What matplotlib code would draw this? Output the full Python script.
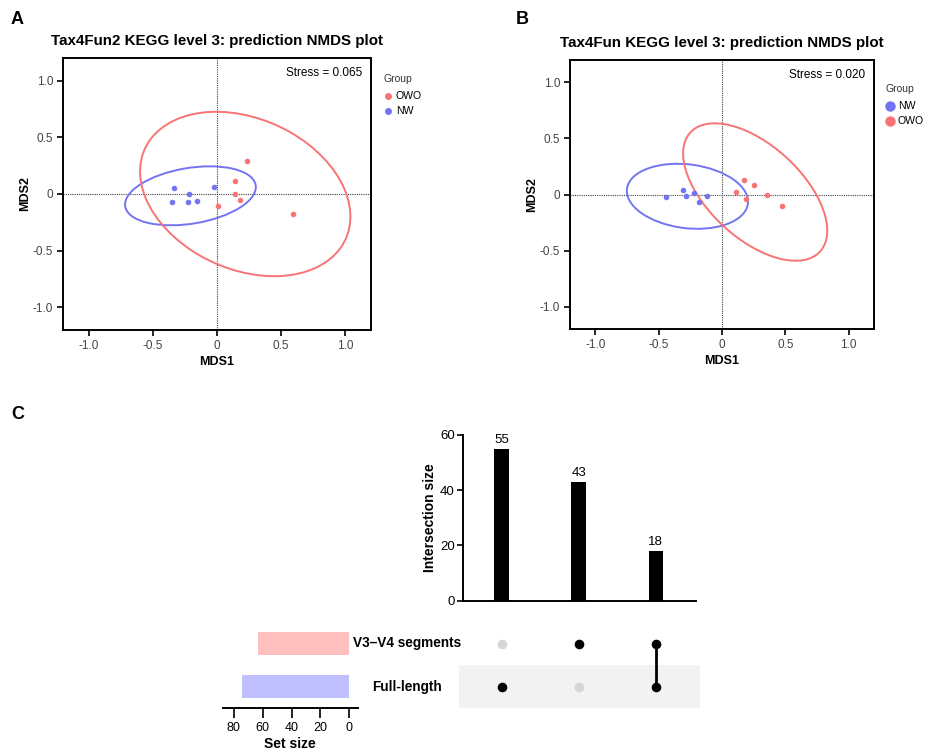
import matplotlib.pyplot as plt
import matplotlib.transforms as mtransforms
from matplotlib.patches import Ellipse

plt.rcParams['font.family'] = ['Liberation Sans', 'DejaVu Sans']
plt.rcParams['axes.unicode_minus'] = False

RED = '#F87474'
BLUE = '#7474F2'

# Panel A: Tax4Fun2 NMDS
a_nw_x = [-0.336, -0.216, -0.354, -0.226, -0.156, -0.026]
a_nw_y = [0.050, 0.003, -0.067, -0.073, -0.058, 0.059]
a_owo_x = [0.235, 0.141, 0.143, 0.177, 0.005, 0.591]
a_owo_y = [0.291, 0.118, 0.003, -0.053, -0.106, -0.179]
# ellipse: center x, center y, width, height, angle
a_nw_ell = (-0.207, -0.016, 1.034, 0.49, 11.1)
a_owo_ell = (0.22, 0.0, 1.764, 1.296, -33.0)
a_stress = 'Stress = 0.065'

# Panel B: Tax4Fun NMDS
b_nw_x = [-0.442, -0.305, -0.281, -0.218, -0.184, -0.115]
b_nw_y = [-0.024, 0.042, -0.015, 0.015, -0.068, -0.012]
b_owo_x = [0.108, 0.174, 0.252, 0.192, 0.352, 0.473]
b_owo_y = [0.024, 0.131, 0.083, -0.038, -0.006, -0.101]
b_nw_ell = (-0.273, -0.016, 0.964, 0.568, -8.8)
b_owo_ell = (0.262, 0.022, 1.48, 0.78, -48.8)
b_stress = 'Stress = 0.020'

# Panel C: UpSet
set_names = ['Full-length', 'V3\u2013V4 segments']
set_sizes = [74, 63]
set_colors = ['#C0C0FF', '#FFC0C0']
inter_sizes = [55, 43, 18]
inter_members = [[0], [1], [0, 1]]

W, H = 925, 753
fig = plt.figure(figsize=(W / 100, H / 100), dpi=100)


def px_axes(x0, y0, x1, y1):
    return fig.add_axes([x0 / W, 1 - y1 / H, (x1 - x0) / W, (y1 - y0) / H])


def fmt(v):
    return '0' if v == 0 else f'{v:.1f}'


def nmds_panel(ax, nw, owo, nw_ell, owo_ell, stress, title, legend_order, legend_xy, msize):
    ax.axhline(0, color='#444444', lw=0.8, ls=(0, (1, 1)), zorder=1)
    ax.axvline(0, color='#444444', lw=0.8, ls=(0, (1, 1)), zorder=1)
    for ell, c in [(nw_ell, BLUE), (owo_ell, RED)]:
        ax.add_patch(Ellipse((ell[0], ell[1]), ell[2], ell[3], angle=ell[4],
                             fill=False, ec=c, lw=1.4, zorder=2))
    ax.scatter(nw[0], nw[1], s=16, color=BLUE, zorder=3, linewidths=0)
    ax.scatter(owo[0], owo[1], s=16, color=RED, zorder=3, linewidths=0)
    ax.set_xlim(-1.2, 1.2)
    ax.set_ylim(-1.2, 1.2)
    ticks = [-1.0, -0.5, 0, 0.5, 1.0]
    ax.set_xticks(ticks)
    ax.set_yticks(ticks)
    ax.set_xticklabels([fmt(t) for t in ticks])
    ax.set_yticklabels([fmt(t) for t in ticks])
    ax.tick_params(labelsize=8.5, labelcolor='#444444', length=4, width=1.2, pad=3)
    for s in ax.spines.values():
        s.set_linewidth(1.4)
    ax.set_xlabel('MDS1', fontsize=9, fontweight='bold', labelpad=3)
    ax.set_ylabel('MDS2', fontsize=9, fontweight='bold', labelpad=1)
    ax.text(0.97, 0.945, stress, transform=ax.transAxes, ha='right', va='center', fontsize=8.5)
    ax.set_title(title, fontsize=10.9, fontweight='bold', pad=9)
    # legend
    lx, ly = legend_xy
    fig.text(lx / W, 1 - ly / H, 'Group', fontsize=7.5, color='#333333', va='center')
    cols = {'NW': BLUE, 'OWO': RED}
    for i, name in enumerate(legend_order):
        yy = ly + 17 + i * 15
        fig.lines.append(plt.Line2D([(lx + 5) / W], [1 - yy / H], marker='o', ms=msize,
                                    color=cols[name], transform=fig.transFigure, ls='none'))
        fig.text((lx + 13) / W, 1 - yy / H, name, fontsize=7.6, va='center')


axA = px_axes(63, 58, 371, 330)
nmds_panel(axA, (a_nw_x, a_nw_y), (a_owo_x, a_owo_y), a_nw_ell, a_owo_ell, a_stress,
           'Tax4Fun2 KEGG level 3: prediction NMDS plot', ['OWO', 'NW'], (383, 79), 4)
axB = px_axes(570, 60, 874, 329)
nmds_panel(axB, (b_nw_x, b_nw_y), (b_owo_x, b_owo_y), b_nw_ell, b_owo_ell, b_stress,
           'Tax4Fun KEGG level 3: prediction NMDS plot', ['NW', 'OWO'], (885, 89), 6.5)

fig.text(11 / W, 1 - 20 / H, 'A', fontsize=13, fontweight='bold', va='center')
fig.text(516 / W, 1 - 20 / H, 'B', fontsize=13, fontweight='bold', va='center')
fig.text(11 / W, 1 - 415 / H, 'C', fontsize=13, fontweight='bold', va='center')

# Panel C: intersection bars
xpos = list(range(len(inter_sizes)))
axI = px_axes(463, 435, 696, 600.5)
axI.bar(xpos, inter_sizes, width=0.19, color='black')
for x, v in zip(xpos, inter_sizes):
    axI.text(x, v + 1.0, str(v), ha='center', va='bottom', fontsize=9.5)
axI.set_xlim(-0.5, 2.52)
axI.set_ylim(0, 60)
axI.set_yticks([0, 20, 40, 60])
axI.set_xticks([])
axI.spines['top'].set_visible(False)
axI.spines['right'].set_visible(False)
axI.spines['left'].set_linewidth(1.4)
axI.spines['bottom'].set_linewidth(1.4)
axI.tick_params(labelsize=9.5, length=4, width=1.2, pad=2)
axI.set_ylabel('Intersection size', fontsize=10, fontweight='bold', labelpad=2)

# matrix
axM = px_axes(459, 622, 700, 708)
axM.set_xlim(-0.566, 2.57)
axM.set_ylim(-0.5, 1.5)
axM.axhspan(-0.5, 0.5, color='#F2F2F2', zorder=0, lw=0)
for x, members in zip(xpos, inter_members):
    for r in range(len(set_names)):
        on = r in members
        axM.scatter(x, r, s=48, color='black' if on else '#D6D6D6', zorder=3, linewidths=0)
    if len(members) > 1:
        axM.plot([x, x], [min(members), max(members)], color='black', lw=2, zorder=2)
axM.axis('off')

# set sizes
axS = px_axes(222.7, 622, 357.7, 708)
axS.patch.set_visible(False)
axS.barh(range(len(set_names)), set_sizes, height=0.54, color=set_colors)
axS.set_xlim(87.6, -5.8)
axS.set_ylim(-0.5, 1.5)
axS.set_xticks([80, 60, 40, 20, 0])
axS.set_yticks([])
for s in ['top', 'right', 'left']:
    axS.spines[s].set_visible(False)
axS.spines['bottom'].set_linewidth(1.4)
axS.tick_params(labelsize=9, length=7, width=1.2, pad=3)
axS.set_xlabel('Set size', fontsize=10, fontweight='bold', labelpad=2)

trans = mtransforms.blended_transform_factory(fig.transFigure, axM.transData)
for r, name in enumerate(set_names):
    fig.text(407 / W, r, name, transform=trans, ha='center', va='center',
             fontsize=9.8, fontweight='bold')

fig.savefig('out.png', dpi=100)
